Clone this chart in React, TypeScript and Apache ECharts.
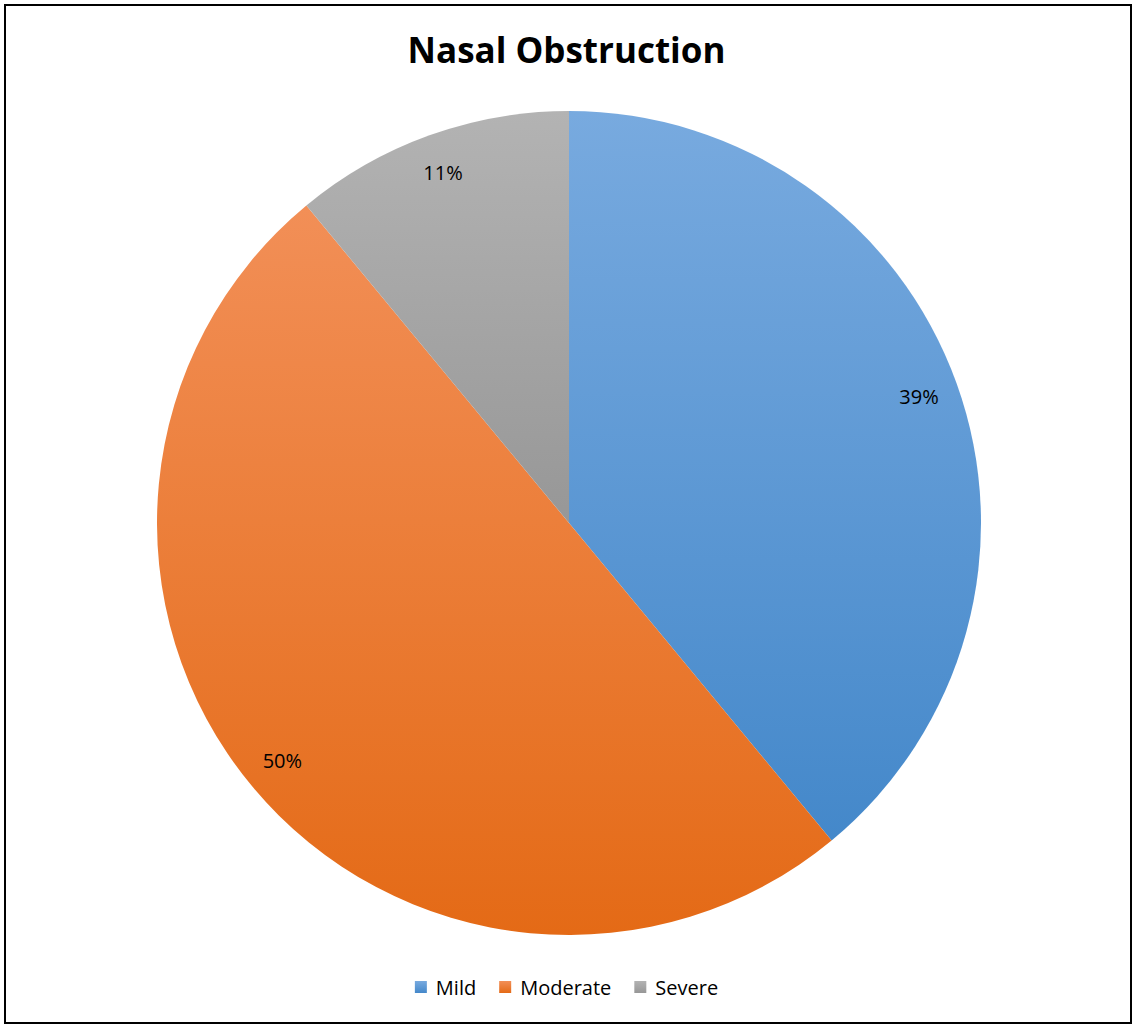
import React, { useEffect, useRef } from "react";
import * as echarts from "echarts";

const titleText = "Nasal Obstruction";
const categories = ["Mild", "Moderate", "Severe"];
const values = [39, 50, 11];
const topColors = ["#78AADF", "#F28F57", "#B3B3B3"];
const bottomColors = ["#4488CA", "#E46A16", "#979797"];
const flatColors = ["#5B9BD5", "#ED7D31", "#A5A5A5"];

export default function App() {
  const ref = useRef<HTMLDivElement>(null);
  useEffect(() => {
    document.body.style.margin = "0";
    const chart = echarts.init(ref.current!, null, { renderer: "svg" });
    const grad = (i: number) =>
      new echarts.graphic.LinearGradient(0, 0, 0, 1, [
        { offset: 0, color: topColors[i] },
        { offset: 1, color: bottomColors[i] },
      ]);
    chart.setOption({
      animation: false,
      backgroundColor: "#ffffff",
      color: flatColors,
      title: {
        text: titleText,
        left: "center",
        top: 27,
        textStyle: {
          fontFamily: "Open Sans",
          fontWeight: "bold",
          fontSize: 35,
          color: "#000000",
        },
      },
      legend: {
        data: categories,
        bottom: 24,
        left: "center",
        icon: "rect",
        itemWidth: 12,
        itemHeight: 12,
        itemGap: 23,
        textStyle: {
          fontFamily: "Open Sans",
          fontSize: 20,
          color: "#000000",
          padding: [0, 0, 0, 4],
        },
      },
      graphic: [
        {
          type: "rect",
          shape: { x: 5, y: 5, width: 1126, height: 1018 },
          style: { fill: "none", stroke: "#000000", lineWidth: 2 },
          z: 100,
        },
      ],
      series: [
        {
          type: "pie",
          center: [569, 523],
          radius: 412,
          startAngle: 90,
          clockwise: true,
          label: { show: false },
          labelLine: { show: false },
          emphasis: { disabled: true },
          itemStyle: { borderWidth: 0 },
          data: categories.map((c, i) => ({
            name: c,
            value: values[i],
            itemStyle: { color: grad(i) },
          })),
        },
        {
          type: "pie",
          center: [569, 523],
          radius: [326, 412],
          startAngle: 90,
          clockwise: true,
          silent: true,
          legendHoverLink: false,
          emphasis: { disabled: true },
          itemStyle: { color: "rgba(0,0,0,0)", borderWidth: 0 },
          label: {
            show: true,
            position: "inside",
            formatter: "{c}%",
            fontFamily: "Open Sans",
            fontSize: 20,
            color: "#000000",
          },
          labelLine: { show: false },
          data: categories.map((c, i) => ({ name: c + " ", value: values[i] })),
        },
      ],
    });
    return () => chart.dispose();
  }, []);
  return <div ref={ref} style={{ width: 1133, height: 1026 }} />;
}
